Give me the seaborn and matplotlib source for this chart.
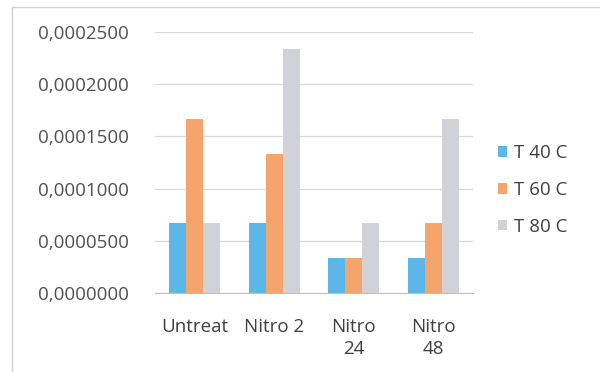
import numpy as np
import pandas as pd
import seaborn as sns
import matplotlib.pyplot as plt
from matplotlib.ticker import FuncFormatter, FixedLocator
from matplotlib.patches import Rectangle

# data
categories = ["Untreat", "Nitro 2", "Nitro\n24", "Nitro\n48"]
series = ["T 40 C", "T 60 C", "T 80 C"]
t40 = [0.0000667, 0.0000667, 0.0000333, 0.0000333]
t60 = [0.0001667, 0.0001333, 0.0000333, 0.0000667]
t80 = [0.0000667, 0.0002333, 0.0000667, 0.0001667]

colors = ["#5DB6E8", "#F5A56B", "#D1D1D8"]


def comma_fmt(v, pos):
    return f"{v:.7f}".replace(".", ",")


def main():
    df = pd.DataFrame({
        "category": categories * 3,
        "series": [series[0]] * 4 + [series[1]] * 4 + [series[2]] * 4,
        "value": t40 + t60 + t80,
    })

    sns.set_style("white")
    plt.rcParams['font.family'] = ['Open Sans', 'DejaVu Sans']

    fig = plt.figure(figsize=(6, 3.72), dpi=100)
    ax = fig.add_axes([155 / 600, 1 - 293 / 372, 318 / 600, 261 / 372])

    sns.barplot(data=df, x="category", y="value", hue="series",
                palette=colors, width=0.64, saturation=1, linewidth=0,
                errorbar=None, ax=ax, legend=True)

    ax.set_ylim(0, 0.00025)
    ax.set_xlim(-0.5, 3.5)
    ax.set_yticks(np.arange(0, 0.00025001, 0.00005))
    ax.yaxis.set_major_formatter(FuncFormatter(comma_fmt))
    ax.yaxis.grid(True, color="#D9D9D9", linewidth=0.9)
    ax.set_axisbelow(True)
    ax.set_xlabel("")
    ax.set_ylabel("")

    for s in ["top", "right", "left"]:
        ax.spines[s].set_visible(False)
    ax.spines["bottom"].set_color("#BFBFBF")

    ax.tick_params(axis="y", length=0, labelsize=13.5, labelcolor="#505050", pad=19)
    ax.tick_params(axis="x", length=0, labelsize=13.5, labelcolor="#404040", pad=18)
    for lbl in ax.get_xticklabels():
        lbl.set_linespacing(1.3)
    # category boundary ticks like the spreadsheet chart
    ax.xaxis.set_minor_locator(FixedLocator([-0.5, 0.5, 1.5, 2.5, 3.5]))
    ax.tick_params(axis="x", which="minor", length=5, color="#BFBFBF", width=0.9)

    leg = ax.legend(loc="center left", bbox_to_anchor=(1.025, 0.395),
                    frameon=False, fontsize=13.5, handlelength=0.5,
                    handleheight=0.5, handletextpad=0.35, labelspacing=1.0)
    for t in leg.get_texts():
        t.set_color("#404040")

    fig.patches.append(Rectangle((12 / 600, -0.05), 1.0, 1 - 7 / 372 + 0.05,
                                 transform=fig.transFigure, fill=False,
                                 edgecolor="#D0D0D0", linewidth=1))

    fig.savefig("out.png", dpi=100)


if __name__ == "__main__":
    main()
